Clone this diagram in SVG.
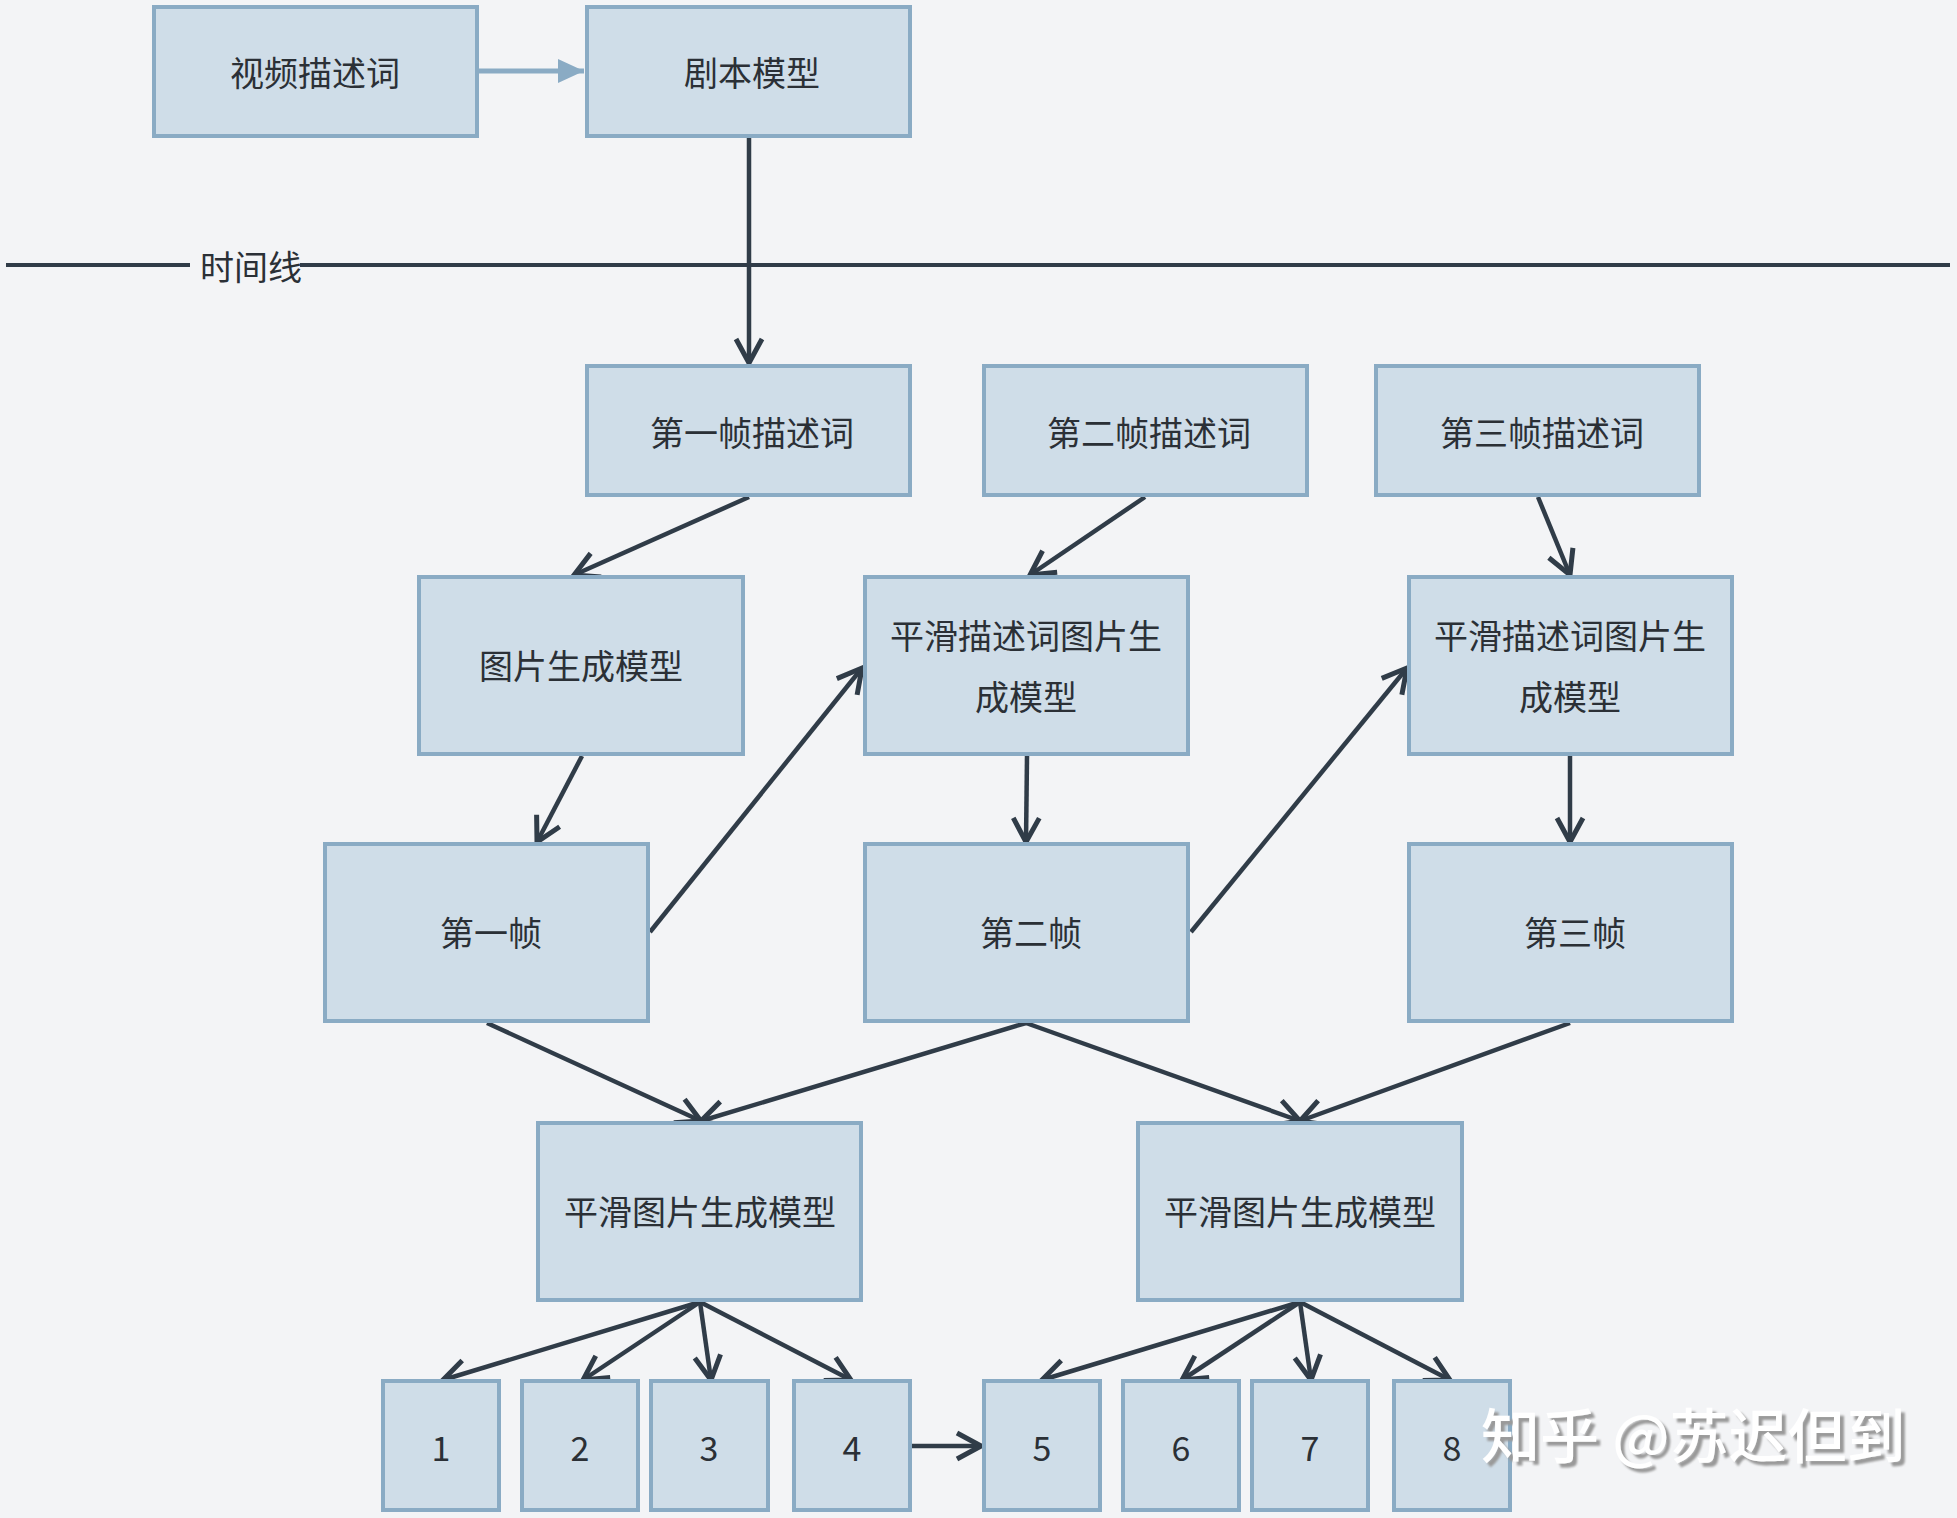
<svg xmlns="http://www.w3.org/2000/svg" width="1957" height="1518" viewBox="0 0 1957 1518">
<style>
.box{fill:#cfdde8;stroke:#8aabc4;stroke-width:4}
.t{font-family:"Noto Sans CJK SC","Noto Sans",sans-serif;font-size:34px;fill:#2b3036;text-anchor:middle;dominant-baseline:central}
.c{stroke:#303c48;stroke-width:4.5;fill:none;marker-end:url(#arr)}
.wm{font-family:"Noto Sans CJK SC",sans-serif;font-size:59px;font-weight:500;fill:#ffffff}
</style>
<defs>
<marker id="arr" markerUnits="userSpaceOnUse" markerWidth="36" markerHeight="36" viewBox="0 0 36 36" refX="32" refY="18" orient="auto">
<path d="M8,5 L32,18 L8,31" fill="none" stroke="#303c48" stroke-width="5"/>
</marker>
<marker id="arrb" markerUnits="userSpaceOnUse" markerWidth="30" markerHeight="30" viewBox="0 0 30 30" refX="28" refY="15" orient="auto">
<path d="M2,3 L28,15 L2,27 Z" fill="#8aabc4"/>
</marker>
<filter id="shadow" x="-5%" y="-20%" width="110%" height="140%">
<feDropShadow dx="4" dy="4" stdDeviation="0.8" flood-color="#9a9a9a" flood-opacity="1"/>
</filter>
</defs>
<rect width="1957" height="1518" fill="#f3f4f6"/>

<g id="connectors">
<line x1="477" y1="71" x2="584" y2="71" stroke="#8aabc4" stroke-width="5" marker-end="url(#arrb)"/>
<line x1="6" y1="265" x2="190" y2="265" stroke="#303c48" stroke-width="4"/>
<line x1="300" y1="265" x2="1950" y2="265" stroke="#303c48" stroke-width="4"/>
<line class="c" x1="749" y1="137" x2="749" y2="363"/>
<line class="c" x1="749" y1="497" x2="574" y2="575"/>
<line class="c" x1="1145" y1="497" x2="1030" y2="575"/>
<line class="c" x1="1538" y1="497" x2="1570" y2="575"/>
<line class="c" x1="582" y1="756" x2="537" y2="842"/>
<line class="c" x1="650" y1="932" x2="862" y2="668"/>
<line class="c" x1="1027" y1="756" x2="1026" y2="842"/>
<line class="c" x1="1191" y1="932" x2="1407" y2="668"/>
<line class="c" x1="1570" y1="756" x2="1570" y2="842"/>
<line class="c" x1="487" y1="1023" x2="701" y2="1121"/>
<line class="c" x1="1026" y1="1023" x2="701" y2="1121"/>
<line class="c" x1="1026" y1="1023" x2="1300" y2="1121"/>
<line class="c" x1="1570" y1="1023" x2="1300" y2="1121"/>
<line class="c" x1="700" y1="1302" x2="443" y2="1380"/>
<line class="c" x1="700" y1="1302" x2="583" y2="1380"/>
<line class="c" x1="700" y1="1302" x2="711" y2="1380"/>
<line class="c" x1="700" y1="1302" x2="851" y2="1380"/>
<line class="c" x1="1300" y1="1302" x2="1042" y2="1380"/>
<line class="c" x1="1300" y1="1302" x2="1182" y2="1380"/>
<line class="c" x1="1300" y1="1302" x2="1311" y2="1380"/>
<line class="c" x1="1300" y1="1302" x2="1450" y2="1380"/>
<line class="c" x1="912" y1="1446" x2="981" y2="1446" stroke-width="5"/>
</g>

<text class="t" x="251" y="265">时间线</text>

<g id="n-video"><rect class="box" x="154" y="7" width="323" height="129"/><text class="t" x="315" y="71">视频描述词</text></g>
<g id="n-script"><rect class="box" x="587" y="7" width="323" height="129"/><text class="t" x="752" y="71">剧本模型</text></g>

<g id="n-d1"><rect class="box" x="587" y="366" width="323" height="129"/><text class="t" x="752" y="431">第一帧描述词</text></g>
<g id="n-d2"><rect class="box" x="984" y="366" width="323" height="129"/><text class="t" x="1149" y="431">第二帧描述词</text></g>
<g id="n-d3"><rect class="box" x="1376" y="366" width="323" height="129"/><text class="t" x="1542" y="431">第三帧描述词</text></g>

<g id="n-gen1"><rect class="box" x="419" y="577" width="324" height="177"/><text class="t" x="581" y="664">图片生成模型</text></g>
<g id="n-gen2"><rect class="box" x="865" y="577" width="323" height="177"/><text class="t" x="1026" y="634">平滑描述词图片生</text><text class="t" x="1026" y="695">成模型</text></g>
<g id="n-gen3"><rect class="box" x="1409" y="577" width="323" height="177"/><text class="t" x="1570" y="634">平滑描述词图片生</text><text class="t" x="1570" y="695">成模型</text></g>

<g id="n-f1"><rect class="box" x="325" y="844" width="323" height="177"/><text class="t" x="491" y="931">第一帧</text></g>
<g id="n-f2"><rect class="box" x="865" y="844" width="323" height="177"/><text class="t" x="1031" y="931">第二帧</text></g>
<g id="n-f3"><rect class="box" x="1409" y="844" width="323" height="177"/><text class="t" x="1575" y="931">第三帧</text></g>

<g id="n-s1"><rect class="box" x="538" y="1123" width="323" height="177"/><text class="t" x="700" y="1210">平滑图片生成模型</text></g>
<g id="n-s2"><rect class="box" x="1138" y="1123" width="324" height="177"/><text class="t" x="1300" y="1210">平滑图片生成模型</text></g>

<g id="n-1"><rect class="box" x="383" y="1381" width="116" height="129"/><text class="t" x="441" y="1446">1</text></g>
<g id="n-2"><rect class="box" x="522" y="1381" width="116" height="129"/><text class="t" x="580" y="1446">2</text></g>
<g id="n-3"><rect class="box" x="651" y="1381" width="117" height="129"/><text class="t" x="709" y="1446">3</text></g>
<g id="n-4"><rect class="box" x="794" y="1381" width="116" height="129"/><text class="t" x="852" y="1446">4</text></g>
<g id="n-5"><rect class="box" x="984" y="1381" width="116" height="129"/><text class="t" x="1042" y="1446">5</text></g>
<g id="n-6"><rect class="box" x="1123" y="1381" width="116" height="129"/><text class="t" x="1181" y="1446">6</text></g>
<g id="n-7"><rect class="box" x="1252" y="1381" width="116" height="129"/><text class="t" x="1310" y="1446">7</text></g>
<g id="n-8"><rect class="box" x="1394" y="1381" width="116" height="129"/><text class="t" x="1452" y="1446">8</text></g>

<text id="watermark" class="wm" x="1481" y="1458" filter="url(#shadow)">知乎 @苏迟但到</text>
</svg>
